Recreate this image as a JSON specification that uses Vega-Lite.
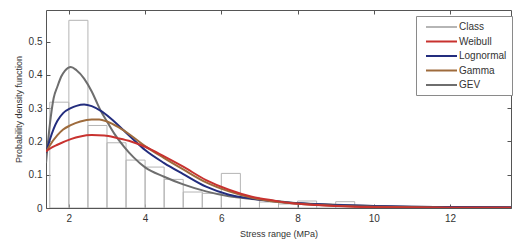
{
  "$schema": "https://vega.github.io/schema/vega-lite/v6.json",
  "width": 465,
  "height": 198,
  "autosize": "none",
  "padding": {"left": 46, "top": 10, "right": 19, "bottom": 37},
  "background": "white",
  "config": {
    "font": "Liberation Sans",
    "view": {"stroke": "#555555", "strokeWidth": 1},
    "axis": {"labelFont": "Liberation Sans", "titleFont": "Liberation Sans", "labelColor": "#333333", "titleColor": "#333333", "labelFontSize": 10, "titleFontSize": 9, "titleFontWeight": "normal", "domain": false, "grid": false, "tickColor": "#555555", "tickSize": -4}
  },
  "datasets": {
    "hist": [
      {"x0": 1.5, "x1": 2.0, "density": 0.318},
      {"x0": 2.0, "x1": 2.5, "density": 0.564},
      {"x0": 2.5, "x1": 3.0, "density": 0.248},
      {"x0": 3.0, "x1": 3.5, "density": 0.196},
      {"x0": 3.5, "x1": 4.0, "density": 0.144},
      {"x0": 4.0, "x1": 4.5, "density": 0.123},
      {"x0": 4.5, "x1": 5.0, "density": 0.086},
      {"x0": 5.0, "x1": 5.5, "density": 0.048},
      {"x0": 5.5, "x1": 6.0, "density": 0.044},
      {"x0": 6.0, "x1": 6.5, "density": 0.104},
      {"x0": 6.5, "x1": 7.0, "density": 0.032},
      {"x0": 7.0, "x1": 7.5, "density": 0.018},
      {"x0": 7.5, "x1": 8.0, "density": 0.012},
      {"x0": 8.0, "x1": 8.5, "density": 0.021},
      {"x0": 8.5, "x1": 9.0, "density": 0.010},
      {"x0": 9.0, "x1": 9.5, "density": 0.019},
      {"x0": 9.5, "x1": 10.0, "density": 0.006},
      {"x0": 10.0, "x1": 10.5, "density": 0.005},
      {"x0": 10.5, "x1": 11.0, "density": 0.004},
      {"x0": 11.0, "x1": 11.5, "density": 0.003},
      {"x0": 11.5, "x1": 12.0, "density": 0.003},
      {"x0": 12.0, "x1": 12.5, "density": 0.002},
      {"x0": 12.5, "x1": 13.0, "density": 0.002},
      {"x0": 13.0, "x1": 13.5, "density": 0.002}
    ],
    "curves": [
      {"series": "GEV", "x": 1.4, "v": 0.135},
      {"series": "GEV", "x": 1.5, "v": 0.25},
      {"series": "GEV", "x": 1.6, "v": 0.33},
      {"series": "GEV", "x": 1.7, "v": 0.365},
      {"series": "GEV", "x": 1.8, "v": 0.395},
      {"series": "GEV", "x": 1.9, "v": 0.413},
      {"series": "GEV", "x": 2.05, "v": 0.424},
      {"series": "GEV", "x": 2.2, "v": 0.414},
      {"series": "GEV", "x": 2.4, "v": 0.389},
      {"series": "GEV", "x": 2.6, "v": 0.35},
      {"series": "GEV", "x": 2.75, "v": 0.313},
      {"series": "GEV", "x": 2.85, "v": 0.289},
      {"series": "GEV", "x": 3.0, "v": 0.26},
      {"series": "GEV", "x": 3.2, "v": 0.222},
      {"series": "GEV", "x": 3.45, "v": 0.184},
      {"series": "GEV", "x": 3.7, "v": 0.152},
      {"series": "GEV", "x": 4.0, "v": 0.122},
      {"series": "GEV", "x": 4.5, "v": 0.094},
      {"series": "GEV", "x": 5.0, "v": 0.071},
      {"series": "GEV", "x": 5.6, "v": 0.05},
      {"series": "GEV", "x": 6.2, "v": 0.035},
      {"series": "GEV", "x": 6.8, "v": 0.027},
      {"series": "GEV", "x": 7.5, "v": 0.02},
      {"series": "GEV", "x": 8.0, "v": 0.015},
      {"series": "GEV", "x": 9.0, "v": 0.01},
      {"series": "GEV", "x": 10.0, "v": 0.006},
      {"series": "GEV", "x": 11.0, "v": 0.004},
      {"series": "GEV", "x": 12.0, "v": 0.003},
      {"series": "GEV", "x": 13.6, "v": 0.002},
      {"series": "Lognormal", "x": 1.4, "v": 0.165},
      {"series": "Lognormal", "x": 1.5, "v": 0.205},
      {"series": "Lognormal", "x": 1.6, "v": 0.238},
      {"series": "Lognormal", "x": 1.7, "v": 0.262},
      {"series": "Lognormal", "x": 1.85, "v": 0.285},
      {"series": "Lognormal", "x": 2.05, "v": 0.3},
      {"series": "Lognormal", "x": 2.2, "v": 0.307},
      {"series": "Lognormal", "x": 2.4, "v": 0.311},
      {"series": "Lognormal", "x": 2.6, "v": 0.306},
      {"series": "Lognormal", "x": 2.85, "v": 0.291},
      {"series": "Lognormal", "x": 3.1, "v": 0.269},
      {"series": "Lognormal", "x": 3.45, "v": 0.232},
      {"series": "Lognormal", "x": 3.7, "v": 0.205},
      {"series": "Lognormal", "x": 4.0, "v": 0.174},
      {"series": "Lognormal", "x": 4.5, "v": 0.135},
      {"series": "Lognormal", "x": 5.0, "v": 0.102},
      {"series": "Lognormal", "x": 5.6, "v": 0.064},
      {"series": "Lognormal", "x": 6.2, "v": 0.04},
      {"series": "Lognormal", "x": 6.8, "v": 0.028},
      {"series": "Lognormal", "x": 7.5, "v": 0.019},
      {"series": "Lognormal", "x": 8.0, "v": 0.014},
      {"series": "Lognormal", "x": 9.0, "v": 0.009},
      {"series": "Lognormal", "x": 10.0, "v": 0.006},
      {"series": "Lognormal", "x": 11.0, "v": 0.004},
      {"series": "Lognormal", "x": 12.0, "v": 0.003},
      {"series": "Lognormal", "x": 13.6, "v": 0.002},
      {"series": "Gamma", "x": 1.4, "v": 0.168},
      {"series": "Gamma", "x": 1.5, "v": 0.188},
      {"series": "Gamma", "x": 1.7, "v": 0.219},
      {"series": "Gamma", "x": 1.85, "v": 0.236},
      {"series": "Gamma", "x": 2.05, "v": 0.249},
      {"series": "Gamma", "x": 2.3, "v": 0.26},
      {"series": "Gamma", "x": 2.6, "v": 0.266},
      {"series": "Gamma", "x": 2.8, "v": 0.266},
      {"series": "Gamma", "x": 3.0, "v": 0.26},
      {"series": "Gamma", "x": 3.3, "v": 0.243},
      {"series": "Gamma", "x": 3.63, "v": 0.218},
      {"series": "Gamma", "x": 4.0, "v": 0.186},
      {"series": "Gamma", "x": 4.5, "v": 0.15},
      {"series": "Gamma", "x": 5.0, "v": 0.116},
      {"series": "Gamma", "x": 5.6, "v": 0.077},
      {"series": "Gamma", "x": 6.2, "v": 0.05},
      {"series": "Gamma", "x": 6.8, "v": 0.031},
      {"series": "Gamma", "x": 7.5, "v": 0.018},
      {"series": "Gamma", "x": 8.0, "v": 0.013},
      {"series": "Gamma", "x": 9.0, "v": 0.007},
      {"series": "Gamma", "x": 10.0, "v": 0.004},
      {"series": "Gamma", "x": 11.0, "v": 0.002},
      {"series": "Gamma", "x": 12.0, "v": 0.001},
      {"series": "Gamma", "x": 13.6, "v": 0.0005},
      {"series": "Weibull", "x": 1.4, "v": 0.17},
      {"series": "Weibull", "x": 1.5, "v": 0.178},
      {"series": "Weibull", "x": 1.7, "v": 0.19},
      {"series": "Weibull", "x": 2.05, "v": 0.207},
      {"series": "Weibull", "x": 2.3, "v": 0.215},
      {"series": "Weibull", "x": 2.6, "v": 0.219},
      {"series": "Weibull", "x": 2.93, "v": 0.218},
      {"series": "Weibull", "x": 3.28, "v": 0.21},
      {"series": "Weibull", "x": 3.63, "v": 0.2},
      {"series": "Weibull", "x": 4.0, "v": 0.184},
      {"series": "Weibull", "x": 4.5, "v": 0.155},
      {"series": "Weibull", "x": 5.0, "v": 0.124},
      {"series": "Weibull", "x": 5.6, "v": 0.084},
      {"series": "Weibull", "x": 6.2, "v": 0.055},
      {"series": "Weibull", "x": 6.8, "v": 0.034},
      {"series": "Weibull", "x": 7.4, "v": 0.022},
      {"series": "Weibull", "x": 7.8, "v": 0.015},
      {"series": "Weibull", "x": 8.5, "v": 0.009},
      {"series": "Weibull", "x": 9.5, "v": 0.004},
      {"series": "Weibull", "x": 10.5, "v": 0.002},
      {"series": "Weibull", "x": 12.0, "v": 0.001},
      {"series": "Weibull", "x": 13.6, "v": 0.0005}
    ]
  },
  "layer": [
    {
      "data": {"name": "hist"},
      "mark": {"type": "rect", "filled": false, "strokeWidth": 1, "clip": true},
      "encoding": {
        "x": {"field": "x0", "type": "quantitative", "scale": {"domain": [1.4, 13.6], "nice": false, "zero": false},
              "axis": {"orient": "bottom", "values": [2, 4, 6, 8, 10, 12], "title": "Stress range (MPa)", "labelPadding": 9, "titlePadding": 6}},
        "x2": {"field": "x1"},
        "y": {"field": "density", "type": "quantitative", "scale": {"domain": [0, 0.595], "nice": false},
              "axis": {"orient": "left", "values": [0, 0.1, 0.2, 0.3, 0.4, 0.5], "labelExpr": "datum.value == 0 ? '0' : format(datum.value, '.1f')", "title": "Probability density function", "labelPadding": 8, "titlePadding": 5}},
        "y2": {"datum": 0},
        "color": {"datum": "Class", "type": "nominal"}
      }
    },
    {
      "data": {"name": "curves"},
      "mark": {"type": "line", "strokeWidth": 2, "interpolate": "monotone", "clip": true},
      "encoding": {
        "x": {"field": "x", "type": "quantitative", "scale": {"domain": [1.4, 13.6], "nice": false, "zero": false},
              "axis": {"orient": "top", "values": [2, 4, 6, 8, 10, 12], "labels": false, "title": null}},
        "y": {"field": "v", "type": "quantitative", "scale": {"domain": [0, 0.595], "nice": false},
              "axis": {"orient": "right", "values": [0, 0.1, 0.2, 0.3, 0.4, 0.5], "labels": false, "title": null}},
        "color": {"field": "series", "type": "nominal",
                  "scale": {"domain": ["Class", "Weibull", "Lognormal", "Gamma", "GEV"], "range": ["#b5b5b5", "#c8322f", "#232d7e", "#9e6b3c", "#6e6e6e"]},
                  "legend": {"title": null, "orient": "none", "legendX": 370, "legendY": 6, "symbolType": "M-1,0H5.2", "symbolSize": 100, "symbolOffset": 4, "symbolStrokeWidth": 2, "labelFontSize": 10, "labelColor": "#333333", "labelFont": "Liberation Sans", "strokeColor": "#8a8a8a", "fillColor": "white", "padding": 5, "rowPadding": 3.5, "labelOffset": 22}}
      }
    }
  ],
  "resolve": {"scale": {"x": "independent", "y": "independent"}}
}
